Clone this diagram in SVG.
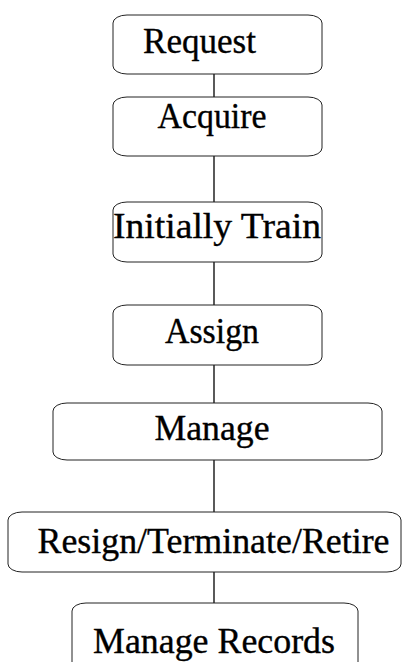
<svg xmlns="http://www.w3.org/2000/svg" width="402" height="662" viewBox="0 0 402 662">
<style>
.box{fill:#fff;stroke:#222;stroke-width:1}
.lbl{font-family:"Liberation Serif","Times New Roman",serif;font-size:35px;fill:#000;stroke:#000;stroke-width:0.35;text-anchor:middle}
.conn line{stroke:#000;stroke-width:1.3}
</style>
<rect width="402" height="662" fill="#fff"/>
<g class="conn">
<line x1="214" y1="74" x2="214" y2="97"/>
<line x1="214" y1="156" x2="214" y2="202"/>
<line x1="214" y1="262" x2="214" y2="305"/>
<line x1="214" y1="365" x2="214" y2="403"/>
<line x1="214" y1="460" x2="214" y2="512"/>
<line x1="214" y1="572" x2="214" y2="603"/>
</g>
<g id="request"><rect class="box" x="113" y="15" width="209" height="59" rx="14" ry="8"/><text class="lbl" x="199.5" y="53" textLength="113" lengthAdjust="spacingAndGlyphs">Request</text></g>
<g id="acquire"><rect class="box" x="113" y="97" width="209" height="59" rx="14" ry="8"/><text class="lbl" x="212" y="128" textLength="109" lengthAdjust="spacingAndGlyphs">Acquire</text></g>
<g id="train"><rect class="box" x="113" y="202" width="209" height="60" rx="14" ry="8"/><text class="lbl" x="217" y="238" textLength="208" lengthAdjust="spacingAndGlyphs">Initially Train</text></g>
<g id="assign"><rect class="box" x="113" y="305" width="209" height="60" rx="14" ry="8"/><text class="lbl" x="212" y="343" textLength="94" lengthAdjust="spacingAndGlyphs">Assign</text></g>
<g id="manage"><rect class="box" x="53" y="403" width="329" height="57" rx="14" ry="8"/><text class="lbl" x="212" y="440" textLength="115" lengthAdjust="spacingAndGlyphs">Manage</text></g>
<g id="resign"><rect class="box" x="8" y="512" width="393" height="60" rx="14" ry="8"/><text class="lbl" x="213.5" y="553" textLength="352" lengthAdjust="spacingAndGlyphs">Resign/Terminate/Retire</text></g>
<g id="records"><rect class="box" x="72" y="603" width="286" height="80" rx="14" ry="8"/><text class="lbl" x="214" y="653" textLength="242" lengthAdjust="spacingAndGlyphs">Manage Records</text></g>
</svg>
